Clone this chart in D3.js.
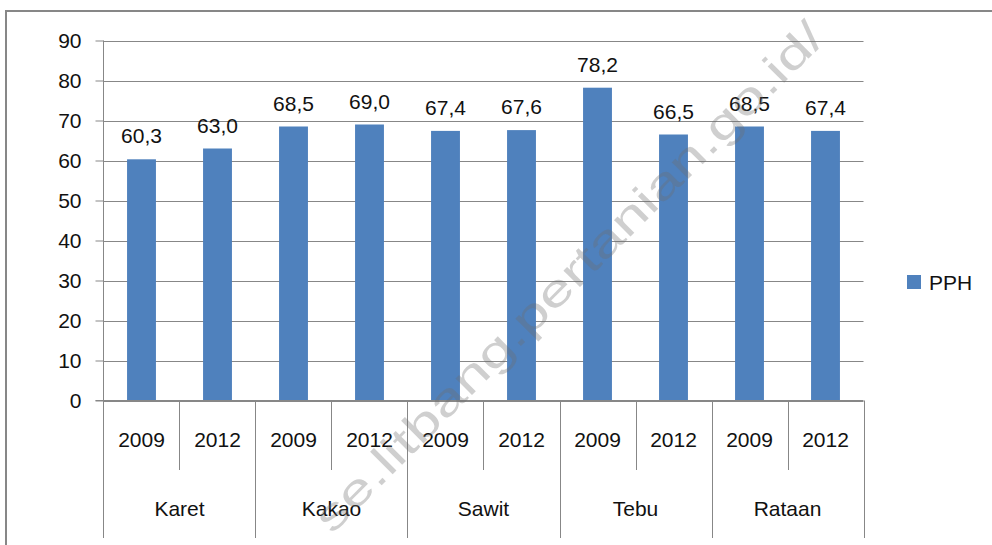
<!DOCTYPE html>
<html>
<head>
<meta charset="utf-8">
<script src="https://cdnjs.cloudflare.com/ajax/libs/d3/7.8.5/d3.min.js"></script>
<style>
  html, body { margin: 0; padding: 0; background: #fff; }
  svg { display: block; }
  text { font-family: "Liberation Sans", Arial, sans-serif; fill: #111; }
</style>
</head>
<body>
<svg id="chart" width="992" height="545"></svg>
<script>
// ---- data ----
const groups = ["Karet", "Kakao", "Sawit", "Tebu", "Rataan"];
const years = ["2009", "2012"];
const values = [60.3, 63.0, 68.5, 69.0, 67.4, 67.6, 78.2, 66.5, 68.5, 67.4];
const valueLabels = ["60,3", "63,0", "68,5", "69,0", "67,4", "67,6", "78,2", "66,5", "68,5", "67,4"];
const yTicks = [0, 10, 20, 30, 40, 50, 60, 70, 80, 90];
const seriesName = "PPH";
const watermark = "se.litbang.pertanian.go.id/";

// ---- layout ----
const svg = d3.select("#chart");
const pLeft = 103.5, pRight = 863.5, pTop = 40.5, pBottom = 400.5;
const barColor = "#4F81BD";
const lineColor = "#878787";

const items = [];
groups.forEach((g, gi) => years.forEach((yr, yi) => {
  const idx = gi * years.length + yi;
  items.push({ key: g + "-" + yr, group: g, year: yr, value: values[idx], label: valueLabels[idx], yi });
}));

const x = d3.scaleBand().domain(items.map(d => d.key)).range([pLeft, pRight])
  .paddingInner(0.62).paddingOuter(0.31);
const step = x.step();
const y = d3.scaleLinear().domain([0, 90]).range([pBottom, pTop]);

// outer frame
svg.append("rect").attr("x", 6).attr("y", 11).attr("width", 1100).attr("height", 700)
  .attr("fill", "#fff").attr("stroke", lineColor).attr("stroke-width", 2);

// gridlines
svg.append("g").selectAll("line").data(yTicks).join("line")
  .attr("x1", pLeft).attr("x2", pRight)
  .attr("y1", d => Math.round(y(d)) + 0.5).attr("y2", d => Math.round(y(d)) + 0.5)
  .attr("stroke", lineColor).attr("stroke-width", 1);

// y axis
const yAxis = d3.axisLeft(y).tickValues(yTicks).tickSize(8).tickPadding(14);
const gy = svg.append("g").attr("transform", `translate(${pLeft},0)`).call(yAxis);
gy.select(".domain").remove();
gy.selectAll(".tick line").attr("stroke", lineColor);
gy.selectAll(".tick text").style("font-size", "21px").attr("fill", "#111")
  .style("font-family", "'Liberation Sans', Arial, sans-serif");

// bars
svg.append("g").selectAll("rect").data(items).join("rect")
  .attr("x", d => x(d.key)).attr("width", x.bandwidth())
  .attr("y", d => y(d.value)).attr("height", d => y(0) - y(d.value))
  .attr("fill", barColor);

// data labels
svg.append("g").selectAll("text").data(items).join("text")
  .attr("x", d => x(d.key) + x.bandwidth() / 2)
  .attr("y", d => y(d.value) - 16)
  .attr("text-anchor", "middle").style("font-size", "21px")
  .text(d => d.label);

// axis lines: y axis vertical extends to bottom as category separator
svg.append("line").attr("x1", pLeft).attr("x2", pLeft).attr("y1", pTop).attr("y2", 538)
  .attr("stroke", lineColor);
svg.append("line").attr("x1", pLeft - 8).attr("x2", pRight).attr("y1", pBottom).attr("y2", pBottom)
  .attr("stroke", lineColor);

// category separators
items.forEach((d) => {
  const xr = Math.round(x(d.key) - step * 0.31 + step) + 0.5;
  const isGroupEnd = d.yi === years.length - 1;
  svg.append("line").attr("x1", xr).attr("x2", xr)
    .attr("y1", pBottom).attr("y2", isGroupEnd ? 538 : 470)
    .attr("stroke", lineColor);
});

// year labels
svg.append("g").selectAll("text").data(items).join("text")
  .attr("x", d => x(d.key) + x.bandwidth() / 2)
  .attr("y", 440).attr("dy", "0.35em")
  .attr("text-anchor", "middle").style("font-size", "21px")
  .text(d => d.year);

// group labels
svg.append("g").selectAll("text").data(groups).join("text")
  .attr("x", (g, gi) => {
    const a = x(items[gi * 2].key), b = x(items[gi * 2 + 1].key);
    return (a + b) / 2 + x.bandwidth() / 2;
  })
  .attr("y", 509).attr("dy", "0.35em")
  .attr("text-anchor", "middle").style("font-size", "21px")
  .text(d => d);

// legend
svg.append("rect").attr("x", 907).attr("y", 275).attr("width", 14).attr("height", 14).attr("fill", barColor);
svg.append("text").attr("x", 929).attr("y", 289.5).style("font-size", "21px").text(seriesName);

// watermark
svg.append("text")
  .attr("transform", "translate(332,535) rotate(-45)")
  .attr("textLength", 700).attr("lengthAdjust", "spacingAndGlyphs")
  .style("font-size", "44px")
  .style("fill", "rgba(110,110,110,0.33)")
  .text(watermark);
</script>
</body>
</html>
